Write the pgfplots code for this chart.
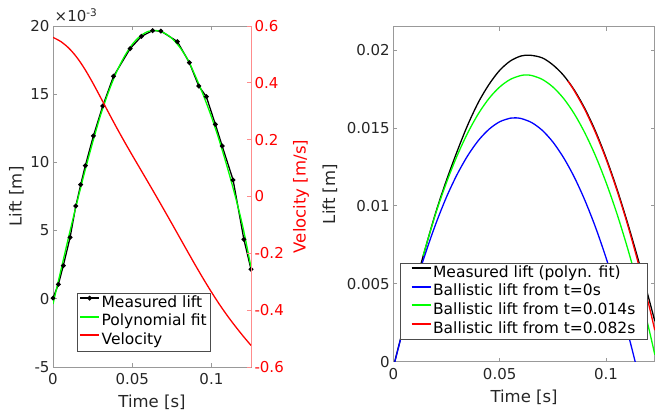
\documentclass[border=0pt]{standalone}
\usepackage{pgfplots}
\pgfplotsset{compat=1.18}
\usepackage{fontspec}
\setmainfont{DejaVu Sans}
\definecolor{axgray}{gray}{0.6}
\definecolor{txt}{gray}{0.15}
\begin{document}
\begin{tikzpicture}
\useasboundingbox (0,0) rectangle (655pt,418pt);
\pgfplotsset{
  every axis/.append style={
    scale only axis,
    scaled x ticks=false, scaled y ticks=false,
    tick align=inside,
    major tick length=4pt,
    ticklabel style={font=\fontsize{15}{18}\selectfont, text=txt},
    xticklabel style={yshift=-3pt},
    axis line style={axgray, line width=0.8pt},
    every tick/.style={axgray, line width=0.8pt},
    legend cell align=left,
    legend image code/.code={\draw[#1, mark=none, line width=1.9pt] (0pt,5pt) -- (19pt,5pt); \path[#1] plot coordinates {(9.5pt,5pt)};},
    legend style={draw=black!70, fill=white,
      font=\fontsize{15.5}{18}\selectfont, inner xsep=2pt, inner ysep=1pt,
      row sep=0pt, nodes={inner sep=1.5pt, text depth=3.8pt, text height=11.8pt}},
  },
}
% ---------- left: lift ----------
\begin{axis}[
  at={(53pt,51pt)}, anchor=south west,
  width=198pt, height=341pt,
  xmin=0, xmax=0.125, ymin=-5, ymax=20,
  xtick={0,0.05,0.1}, xticklabels={0,0.05,0.1},
  ytick={-5,0,5,10,15,20}, yticklabels={-5,0,5,10,15,20},
  xtick pos=both, ytick pos=left,
  xlabel={Time [s]}, ylabel={Lift [m]},
  every axis x label/.style={at={(axis description cs:0.5,-0.103)}, anchor=center, font=\fontsize{16.5}{20}\selectfont, text=txt},
  every axis y label/.style={at={(axis description cs:-0.184,0.5)}, rotate=90, anchor=center, font=\fontsize{16.5}{20}\selectfont, text=txt},
]
\addplot[black, line width=1.3pt, mark=*, mark size=1.7pt] coordinates {
(0,0.05) (0.0034,1.06) (0.0065,2.43) (0.0108,4.51) (0.0144,6.80) (0.0175,8.37)
(0.0204,9.76) (0.0255,11.94) (0.0314,14.13) (0.0382,16.31) (0.0487,18.34)
(0.0558,19.24) (0.0629,19.66) (0.0681,19.63) (0.0785,18.86) (0.0861,17.31)
(0.0920,15.60) (0.0968,14.82) (0.1025,12.79) (0.1068,11.20) (0.1137,8.71)
(0.1205,4.36) (0.1250,2.16)};
\addplot[green, line width=1.3pt, smooth] coordinates {
(0,-0.38) (0.005,2.1) (0.010,4.6) (0.015,7.0) (0.020,9.3) (0.025,11.45)
(0.030,13.45) (0.035,15.15) (0.040,16.6) (0.045,17.75) (0.050,18.65)
(0.055,19.25) (0.060,19.6) (0.065,19.67) (0.070,19.5) (0.075,19.1)
(0.080,18.45) (0.085,17.55) (0.090,16.3) (0.095,14.9) (0.100,13.35)
(0.105,11.6) (0.110,9.65) (0.115,7.55) (0.120,5.2) (0.125,2.3)};
\end{axis}
% ---------- left: velocity (right y axis) ----------
\begin{axis}[
  at={(53pt,51pt)}, anchor=south west,
  width=198pt, height=341pt,
  xmin=0, xmax=0.125, ymin=-0.6, ymax=0.6,
  axis x line=none, axis y line*=right,
  y axis line style={-, red!45, line width=0.8pt},
  ytick style={red!45, line width=0.8pt},
  ytick={-0.6,-0.4,-0.2,0,0.2,0.4,0.6},
  yticklabels={-0.6,-0.4,-0.2,0,0.2,0.4,0.6},
  yticklabel style={text=red},
  ylabel={Velocity [m/s]},
  every axis y label/.style={at={(axis description cs:1.2525,0.5)}, rotate=90, anchor=center, font=\fontsize{16.5}{20}\selectfont, text=red},
  legend style={at={(axis description cs:0.1212,0.2179)}, anchor=north west},
]
\addlegendimage{black, line width=1.3pt, mark=*, mark size=1.7pt}
\addlegendentry{Measured lift}
\addlegendimage{green, line width=1.3pt}
\addlegendentry{Polynomial fit}
\addplot[red, line width=1.3pt, smooth] coordinates {
(0,0.560) (0.005,0.545) (0.010,0.522) (0.015,0.490) (0.020,0.449) (0.025,0.401)
(0.030,0.349) (0.035,0.296) (0.040,0.244) (0.045,0.194) (0.050,0.1455)
(0.055,0.098) (0.060,0.0505) (0.065,0.0025) (0.070,-0.046) (0.075,-0.095)
(0.080,-0.1445) (0.085,-0.194) (0.090,-0.243) (0.095,-0.2905) (0.100,-0.336)
(0.105,-0.379) (0.110,-0.419) (0.115,-0.456) (0.120,-0.491) (0.125,-0.524)};
\addlegendentry{Velocity}
\end{axis}
\node[anchor=base west, inner sep=0pt, font=\fontsize{15}{18}\selectfont, text=txt] at (54.5pt,396.3pt) {×10\textsuperscript{-3}};
% ---------- right: ballistic ----------
\begin{axis}[
  at={(393.3pt,56.3pt)}, anchor=south west,
  width=261.5pt, height=335pt,
  xmin=0, xmax=0.1229, ymin=0, ymax=0.0215,
  xtick={0,0.05,0.1}, xticklabels={0,0.05,0.1},
  ytick={0,0.005,0.01,0.015,0.02}, yticklabels={0,0.005,0.01,0.015,0.02},
  xtick pos=both, ytick pos=both,
  xlabel={Time [s]}, ylabel={Lift [m]},
  every axis x label/.style={at={(axis description cs:0.5,-0.107)}, anchor=center, font=\fontsize{16.5}{20}\selectfont, text=txt},
  every axis y label/.style={at={(axis description cs:-0.242,0.5)}, rotate=90, anchor=center, font=\fontsize{16.5}{20}\selectfont, text=txt},
  legend style={at={(axis description cs:0.0256,0.2955)}, anchor=north west, inner xsep=10.5pt},
]
\addplot[black, line width=1.3pt, smooth] coordinates {
(0,-0.00035) (0.005,0.0023) (0.010,0.0048) (0.015,0.00725) (0.020,0.0096)
(0.025,0.01165) (0.030,0.0135) (0.035,0.0152) (0.040,0.01665) (0.045,0.0178)
(0.050,0.0187) (0.055,0.0193) (0.060,0.01962) (0.0643,0.01967) (0.070,0.0195)
(0.075,0.01905) (0.080,0.01838) (0.085,0.01745) (0.090,0.01625) (0.095,0.0148)
(0.100,0.01308) (0.105,0.01113) (0.110,0.00895) (0.115,0.0066) (0.120,0.0041)
(0.1229,0.0026)};
\addlegendentry{Measured lift (polyn. fit)}
\addplot[blue, line width=1.3pt, smooth] coordinates {
(0,-0.0004) (0.005,0.00228) (0.010,0.00472) (0.015,0.00691) (0.020,0.00886)
(0.025,0.01057) (0.030,0.01202) (0.035,0.01323) (0.040,0.0142) (0.045,0.01492)
(0.050,0.0154) (0.055,0.01563) (0.0572,0.01565) (0.060,0.01561) (0.065,0.01535)
(0.070,0.01485) (0.075,0.0141) (0.080,0.0131) (0.085,0.01186) (0.090,0.01037)
(0.095,0.00864) (0.100,0.00666) (0.105,0.00444) (0.110,0.00197) (0.115,-0.00074)
(0.120,-0.00365)};
\addlegendentry{Ballistic lift from t=0s}
\addplot[green, line width=1.3pt, smooth] coordinates {
(0.014,0.0068) (0.020,0.00954) (0.025,0.0115) (0.030,0.01322) (0.035,0.01469)
(0.040,0.01592) (0.045,0.0169) (0.050,0.01763) (0.055,0.01812) (0.060,0.01837)
(0.0625,0.0184) (0.065,0.01837) (0.070,0.01812) (0.075,0.01763) (0.080,0.0169)
(0.085,0.01592) (0.090,0.01469) (0.095,0.01322) (0.100,0.0115) (0.105,0.00954)
(0.110,0.00733) (0.115,0.00488) (0.120,0.00218) (0.1229,0.00045)};
\addlegendentry{Ballistic lift from t=0.014s}
\addplot[red, line width=1.3pt, smooth] coordinates {
(0.082,0.01802) (0.085,0.0174) (0.090,0.01618) (0.095,0.01471) (0.100,0.0130)
(0.105,0.01104) (0.110,0.00884) (0.115,0.00639) (0.120,0.0037) (0.1229,0.00202)};
\addlegendentry{Ballistic lift from t=0.082s}
\end{axis}
\end{tikzpicture}
\end{document}
